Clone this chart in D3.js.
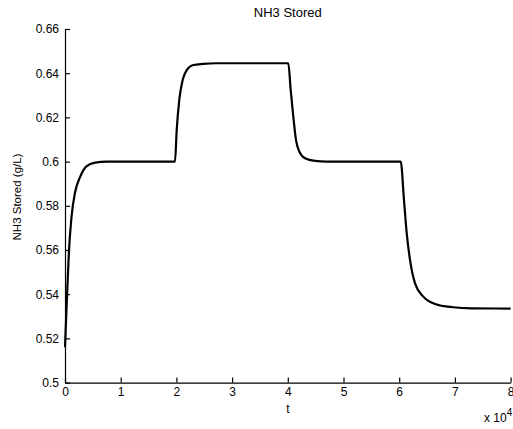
<!DOCTYPE html>
<html>
<head>
<meta charset="utf-8">
<script src="https://cdn.jsdelivr.net/npm/d3@7"></script>
<style>
  html, body { margin: 0; padding: 0; background: #fff; }
  svg { display: block; font-family: "Liberation Sans", Arial, Helvetica, sans-serif; }
</style>
</head>
<body>
<svg id="chart" width="513" height="429"></svg>
<script>
// Time (x 10^4) and stored NH3 (g/L)
const time = [0, 0.036, 0.072, 0.117, 0.18, 0.27, 0.39, 0.54, 0.75,
  1.975, 2.005, 2.052, 2.113, 2.185, 2.303, 2.478, 2.7, 3.0,
  4.009, 4.052, 4.099, 4.147, 4.207, 4.309, 4.488, 4.7,
  6.027, 6.086, 6.135, 6.194, 6.284, 6.433, 6.643, 6.971, 7.3, 8.0];
const nh3Stored = [0.516, 0.539, 0.560, 0.575, 0.586, 0.593, 0.598, 0.5995, 0.6,
  0.6, 0.614, 0.628, 0.637, 0.6414, 0.6437, 0.6442, 0.6445, 0.6445,
  0.6445, 0.6324, 0.6203, 0.6098, 0.6045, 0.6015, 0.6003, 0.6,
  0.6, 0.5826, 0.5676, 0.5555, 0.5449, 0.5389, 0.5356, 0.5341, 0.5336, 0.5335];
const xTicks = [0, 1, 2, 3, 4, 5, 6, 7, 8];
const yTicks = [0.5, 0.52, 0.54, 0.56, 0.58, 0.6, 0.62, 0.64, 0.66];

const svg = d3.select("#chart");
const plotLeft = 65, plotRight = 510.6, plotTop = 29, plotBottom = 382.6;

const x = d3.scaleLinear().domain([0, 8]).range([plotLeft, plotRight]);
const y = d3.scaleLinear().domain([0.5, 0.66]).range([plotBottom, plotTop]);

const xAxis = d3.axisBottom(x).tickValues(xTicks).tickFormat(d3.format("d"))
  .tickSizeInner(-5).tickSizeOuter(0).tickPadding(5);
const yAxis = d3.axisLeft(y).tickValues(yTicks).tickFormat(d => String(+d.toFixed(2)))
  .tickSizeInner(-5).tickSizeOuter(0).tickPadding(6);

const gx = svg.append("g").attr("transform", `translate(0,${plotBottom})`).call(xAxis);
const gy = svg.append("g").attr("transform", `translate(${plotLeft},0)`).call(yAxis);
[gx, gy].forEach(g => {
  g.selectAll("path, line").attr("stroke", "#000").attr("stroke-width", 1.2);
  g.selectAll("text").attr("fill", "#000").attr("font-size", 12);
});

const pts = time.map((t, i) => [t, nh3Stored[i]]);
const line = d3.line().x(d => x(d[0])).y(d => y(d[1])).curve(d3.curveMonotoneX);
svg.append("path").datum(pts).attr("d", line)
  .attr("fill", "none").attr("stroke", "#000").attr("stroke-width", 2.2)
  .attr("stroke-linejoin", "round");

// Labels
svg.append("text").attr("x", (plotLeft + plotRight) / 2).attr("y", 17)
  .attr("text-anchor", "middle").attr("font-size", 13).text("NH3 Stored");
svg.append("text").attr("x", (plotLeft + plotRight) / 2).attr("y", 413)
  .attr("text-anchor", "middle").attr("font-size", 12).text("t");
svg.append("text")
  .attr("transform", "translate(21,197) rotate(-90)")
  .attr("text-anchor", "middle").attr("font-size", 11.5).text("NH3 Stored (g/L)");
const mult = svg.append("text").attr("x", 484).attr("y", 422).attr("font-size", 12);
mult.append("tspan").text("x 10");
mult.append("tspan").attr("dy", -6).attr("font-size", 10).text("4");
</script>
</body>
</html>
